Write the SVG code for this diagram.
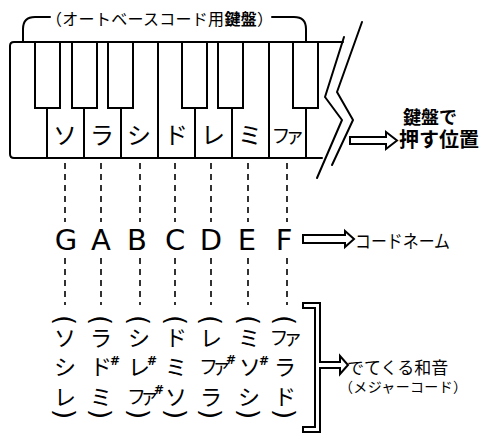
<svg xmlns="http://www.w3.org/2000/svg" width="483" height="434" viewBox="0 0 483 434">
<style>
.ln{fill:none;stroke:#000;stroke-width:2;stroke-linejoin:round;stroke-linecap:round}
.bk{fill:#fff;stroke:#000;stroke-width:2}
.dash{fill:none;stroke:#000;stroke-width:1.6;stroke-dasharray:6 5}
.jp{font-family:"Noto Sans CJK JP","Noto Sans CJK SC",sans-serif;fill:#000}
.key{font-size:24px;text-anchor:middle}
.ch{font-size:22px;text-anchor:middle}
.cs{font-size:22px}
.fa{font-size:19px}
.fam{font-size:19px;text-anchor:middle}
.pa{font-family:"DejaVu Sans",sans-serif;font-size:26px;text-anchor:middle;dominant-baseline:central;fill:#000}
.note{font-family:"DejaVu Sans",sans-serif;font-size:29px;text-anchor:middle;fill:#000}
.arr{fill:#fff;stroke:#000;stroke-width:2;stroke-linejoin:miter}
.sh{font-family:"DejaVu Sans",sans-serif;font-size:12px;font-weight:bold}
</style>
<rect width="483" height="434" fill="#fff"/>

<g id="title">
  <path class="ln" d="M23 41 V29 Q23 17 35 17 H50 M272 17 H294 Q306 17 306 29 V41"/>
  <text class="jp" x="46" y="25" font-size="16" textLength="227" lengthAdjust="spacing">（オートベースコード用<tspan font-weight="bold">鍵盤</tspan>）</text>
</g>

<g id="keyboard">
  <path class="ln" d="M343 42 H14 Q10 42 10 46 V154 Q10 158 14 158 H322"/>
  <path class="ln" d="M47 108 V158 M84 108 V158 M121 108 V158 M158 42 V158 M195 108 V158 M232 108 V158 M269 42 V158 M306 108 V158"/>
  <rect class="bk" x="35" y="42" width="25" height="66"/>
  <rect class="bk" x="72" y="42" width="25" height="66"/>
  <rect class="bk" x="108" y="42" width="25" height="66"/>
  <rect class="bk" x="182" y="42" width="25" height="66"/>
  <rect class="bk" x="218" y="42" width="25" height="66"/>
  <rect class="bk" x="293" y="42" width="25" height="66"/>
  <path class="ln" d="M344 37 L325 97 L342 120 L317 178 M362 22 L337 92 L353 120 L332 165"/>
  <text class="jp key" x="65" y="144">ソ</text>
  <text class="jp key" x="102" y="144">ラ</text>
  <text class="jp key" x="139" y="144">シ</text>
  <text class="jp key" x="176" y="144">ド</text>
  <text class="jp key" x="213" y="144">レ</text>
  <text class="jp key" x="250" y="144">ミ</text>
  <text class="jp fam" x="288" y="143"><tspan>フ</tspan><tspan dx="-5">ァ</tspan></text>
</g>

<g id="press-label">
  <text class="jp" x="403" y="124" font-size="18" font-weight="bold">鍵盤で</text>
  <text class="jp" x="399" y="147" font-size="20" font-weight="bold">押す位置</text>
</g>

<g id="chord-names">
  <text class="note" x="66" y="250">G</text>
  <text class="note" x="101" y="250">A</text>
  <text class="note" x="137" y="250">B</text>
  <text class="note" x="175" y="250">C</text>
  <text class="note" x="211" y="250">D</text>
  <text class="note" x="247" y="250">E</text>
  <text class="note" x="284" y="250">F</text>
</g>

<g id="chord-name-label">
  <text class="jp" x="355" y="248" font-size="18" textLength="95" lengthAdjust="spacingAndGlyphs">コードネーム</text>
</g>

<g id="chords">
  <g id="chord-G">
    <text class="pa" transform="translate(65 320) rotate(90)">(</text>
    <text class="jp ch" x="65" y="346">ソ</text>
    <text class="jp ch" x="65" y="375">シ</text>
    <text class="jp ch" x="65" y="405">レ</text>
    <text class="pa" transform="translate(65 414) rotate(90)">)</text>
  </g>
  <g id="chord-A">
    <text class="pa" transform="translate(101 320) rotate(90)">(</text>
    <text class="jp ch" x="101" y="346">ラ</text>
    <text class="jp cs" x="90" y="375">ド<tspan class="sh" dx="-2" dy="-10">#</tspan></text>
    <text class="jp ch" x="101" y="405">ミ</text>
    <text class="pa" transform="translate(101 414) rotate(90)">)</text>
  </g>
  <g id="chord-B">
    <text class="pa" transform="translate(139 320) rotate(90)">(</text>
    <text class="jp ch" x="139" y="346">シ</text>
    <text class="jp cs" x="128" y="375">レ<tspan class="sh" dx="-3" dy="-10">#</tspan></text>
    <text class="jp fa" x="127" y="404"><tspan>フ</tspan><tspan dx="-6">ァ</tspan><tspan class="sh" dx="-5" dy="-10">#</tspan></text>
    <text class="pa" transform="translate(139 414) rotate(90)">)</text>
  </g>
  <g id="chord-C">
    <text class="pa" transform="translate(176 320) rotate(90)">(</text>
    <text class="jp ch" x="176" y="346">ド</text>
    <text class="jp ch" x="176" y="375">ミ</text>
    <text class="jp ch" x="176" y="405">ソ</text>
    <text class="pa" transform="translate(176 414) rotate(90)">)</text>
  </g>
  <g id="chord-D">
    <text class="pa" transform="translate(211 320) rotate(90)">(</text>
    <text class="jp ch" x="211" y="346">レ</text>
    <text class="jp fa" x="199" y="374"><tspan>フ</tspan><tspan dx="-6">ァ</tspan><tspan class="sh" dx="-5" dy="-10">#</tspan></text>
    <text class="jp ch" x="211" y="405">ラ</text>
    <text class="pa" transform="translate(211 414) rotate(90)">)</text>
  </g>
  <g id="chord-E">
    <text class="pa" transform="translate(249 320) rotate(90)">(</text>
    <text class="jp ch" x="249" y="346">ミ</text>
    <text class="jp cs" x="239" y="375">ソ<tspan class="sh" dx="-2" dy="-10">#</tspan></text>
    <text class="jp ch" x="249" y="405">シ</text>
    <text class="pa" transform="translate(249 414) rotate(90)">)</text>
  </g>
  <g id="chord-F">
    <text class="pa" transform="translate(285 320) rotate(90)">(</text>
    <text class="jp fam" x="286" y="345"><tspan>フ</tspan><tspan dx="-5">ァ</tspan></text>
    <text class="jp ch" x="285" y="375">ラ</text>
    <text class="jp ch" x="285" y="405">ド</text>
    <text class="pa" transform="translate(285 414) rotate(90)">)</text>
  </g>
</g>

<g id="bracket">
  <path class="arr" d="M303 303 H320 V432 H303 V427 H315 V308 H303 Z"/>
</g>

<g id="chord-label">
  <text class="jp" x="347" y="374" font-size="17">でてくる和音</text>
  <text class="jp" x="339" y="392" font-size="14" textLength="128" lengthAdjust="spacing">（メジャーコード）</text>
</g>

<g id="connectors">
  <path class="dash" d="M65 163 V222 M101 163 V222 M140 163 V222 M175 163 V222 M211 163 V222 M248 163 V222 M287 163 V222"/>
  <path class="dash" d="M65 258 V305 M101 258 V305 M140 258 V305 M175 258 V305 M211 258 V305 M248 258 V305 M287 258 V305"/>
  <path class="arr" d="M350 137 H386 V132 L397 140.5 L386 149 V144 H350 Z"/>
  <path class="arr" d="M303 235 H345 V231 L354 239 L345 247 V243 H303 Z"/>
  <path class="arr" d="M319 362 H340 V356 L348 365 L340 374 V368 H319"/>
</g>
</svg>
